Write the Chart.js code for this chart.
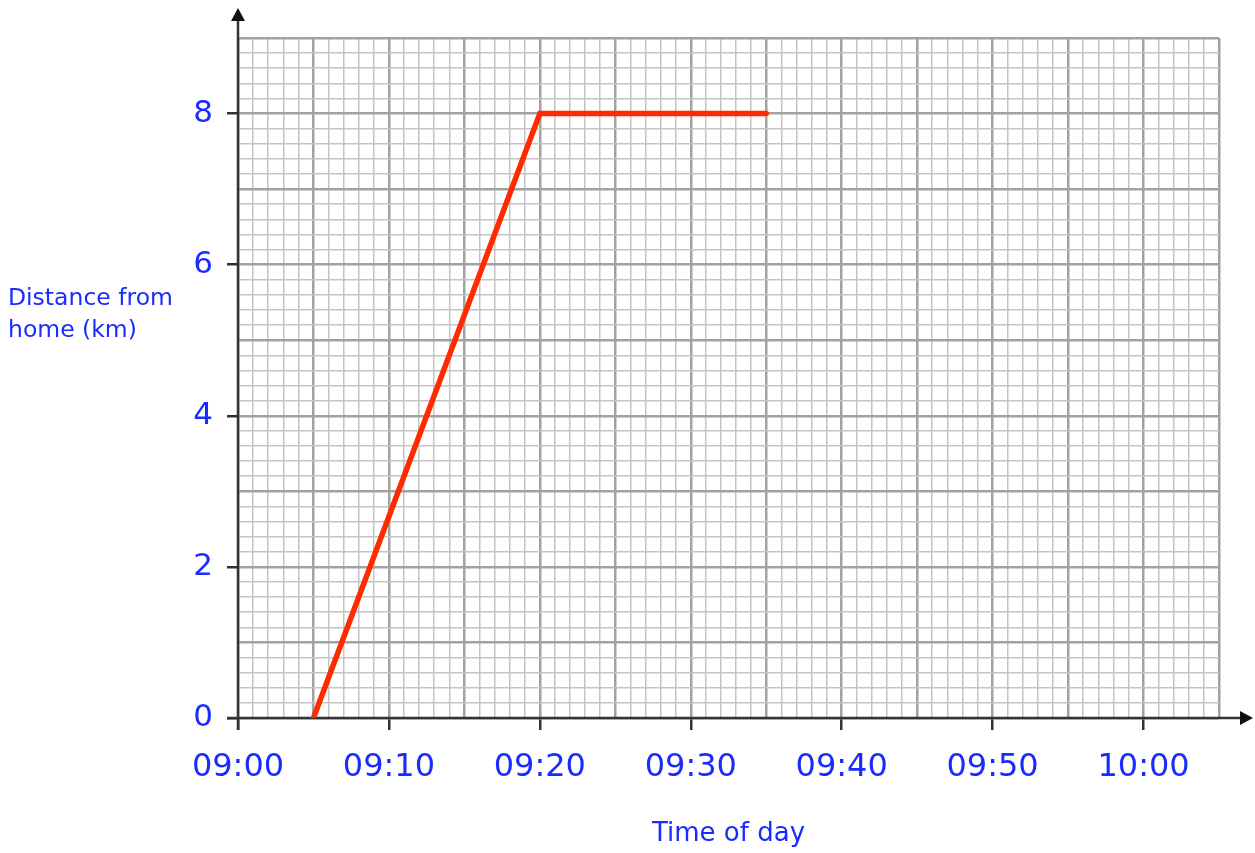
<!DOCTYPE html>
<html>
<head>
<meta charset="utf-8">
<script src="https://cdn.jsdelivr.net/npm/chart.js@4/dist/chart.umd.min.js"></script>
<style>
  body { margin: 0; background: #fff; }
  #wrap { position: relative; width: 1255px; height: 853px; }
  #ytitle {
    position: absolute; left: 8px; top: 281px;
    font: 23.5px 'Comic Sans MS', 'DejaVu Sans', sans-serif;
    line-height: 32px; color: #1a2bff;
  }
</style>
</head>
<body>
<div id="wrap">
  <canvas id="chart"></canvas>
  <div id="ytitle">Distance from<br>home (km)</div>
</div>
<script>
// journey: minutes after 09:00 and distance from home
const minutes = [5, 20, 35];
const distance = [0, 8, 8];
const xTickLabels = ['09:00', '09:10', '09:20', '09:30', '09:40', '09:50', '10:00'];
const yTickLabels = ['0', '2', '4', '6', '8'];

const BLUE = '#1a2bff';
const FONT = "'Comic Sans MS', 'DejaVu Sans', sans-serif";
const MINOR = '#c4c4c4';
const MAJOR = '#a2a2a2';
const AXIS = '#333';

const isInt = v => Math.abs(v - Math.round(v)) < 1e-6;

// axis lines with arrow heads, drawn over the grid but under the line
const axisArrows = {
  id: 'axisArrows',
  beforeDatasetsDraw(chart) {
    const { ctx, chartArea: a, scales: { x, y } } = chart;
    const x0 = x.getPixelForValue(0);
    const y0 = y.getPixelForValue(0);
    ctx.save();
    ctx.strokeStyle = AXIS;
    ctx.fillStyle = '#111';
    ctx.lineWidth = 2.5;
    ctx.beginPath();
    ctx.moveTo(x0, y0 + 12);
    ctx.lineTo(x0, a.top - 18);
    ctx.moveTo(x0 - 11, y0);
    ctx.lineTo(a.right + 22, y0);
    ctx.stroke();
    // up arrow
    ctx.beginPath();
    ctx.moveTo(x0, a.top - 30);
    ctx.lineTo(x0 - 7, a.top - 17);
    ctx.lineTo(x0 + 7, a.top - 17);
    ctx.closePath();
    ctx.fill();
    // right arrow
    ctx.beginPath();
    ctx.moveTo(a.right + 34, y0);
    ctx.lineTo(a.right + 21, y0 - 7);
    ctx.lineTo(a.right + 21, y0 + 7);
    ctx.closePath();
    ctx.fill();
    ctx.restore();
  }
};

new Chart(document.getElementById('chart'), {
  type: 'line',
  data: {
    datasets: [{
      data: minutes.map((m, i) => ({ x: m, y: distance[i] })),
      borderColor: '#ff2a00',
      borderWidth: 5.5,
      borderCapStyle: 'round',
      pointRadius: 0,
      tension: 0
    }]
  },
  options: {
    responsive: true,
    maintainAspectRatio: false,
    animation: false,
    layout: { padding: { top: 38, right: 36, left: 0, bottom: 0 } },
    plugins: { legend: { display: false }, tooltip: { enabled: false } },
    scales: {
      x: {
        type: 'linear',
        min: 0,
        max: 65,
        afterBuildTicks: s => { s.ticks = Array.from({ length: 66 }, (_, i) => ({ value: i })); },
        afterFit: s => { s.height = 135; },
        border: { display: false },
        grid: {
          color: c => (c.tick && c.tick.value % 5 === 0) ? MAJOR : MINOR,
          lineWidth: c => (c.tick && c.tick.value % 5 === 0) ? 2.5 : 1.5,
          tickColor: c => (c.tick && c.tick.value % 10 === 0) ? AXIS : 'rgba(0,0,0,0)',
          tickWidth: 2.5,
          tickLength: 12
        },
        ticks: {
          autoSkip: false,
          maxRotation: 0,
          padding: 18,
          color: BLUE,
          font: { family: FONT, size: 32 },
          callback: v => v % 10 === 0 ? xTickLabels[v / 10] : ''
        },
        title: {
          display: true,
          text: 'Time of day',
          color: BLUE,
          font: { family: FONT, size: 26 },
          padding: { top: 0, bottom: 3 }
        }
      },
      y: {
        min: 0,
        max: 9,
        afterBuildTicks: s => { s.ticks = Array.from({ length: 46 }, (_, i) => ({ value: i / 5 })); },
        afterFit: s => { s.width = 238; },
        border: { display: false },
        grid: {
          color: c => (c.tick && isInt(c.tick.value)) ? MAJOR : MINOR,
          lineWidth: c => (c.tick && isInt(c.tick.value)) ? 2.5 : 1.5,
          tickColor: c => (c.tick && isInt(c.tick.value) && Math.round(c.tick.value) % 2 === 0) ? AXIS : 'rgba(0,0,0,0)',
          tickWidth: 2.5,
          tickLength: 11
        },
        ticks: {
          autoSkip: false,
          padding: 14,
          color: BLUE,
          font: { family: FONT, size: 31 },
          callback: v => {
            const r = Math.round(v);
            return (isInt(v) && r % 2 === 0) ? yTickLabels[r / 2] : '';
          }
        }
      }
    }
  },
  plugins: [axisArrows]
});
</script>
</body>
</html>
